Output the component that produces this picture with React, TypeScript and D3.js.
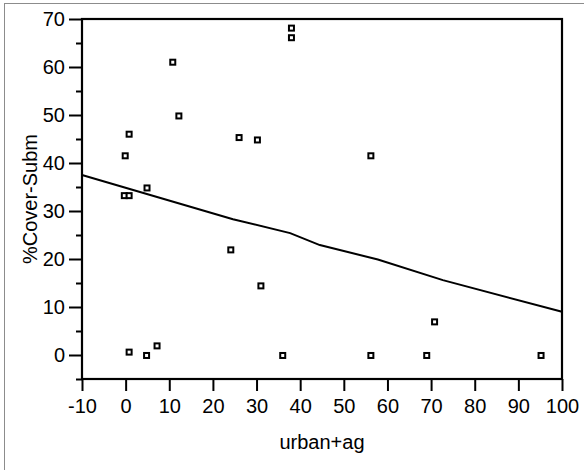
import React, { useEffect, useRef } from 'react';
import * as d3 from 'd3';

// scatter values
const urbanAg = [-0.1, 0.8, -0.3, 0.8, 4.9, 10.8, 12.2, 26, 30.2, 38, 38, 56.2, 24.1, 31, 0.8, 4.8, 7.2, 36, 56.2, 69, 70.8, 95.2];
const coverSubm = [41.5, 46.0, 33.2, 33.2, 34.8, 61.0, 49.8, 45.3, 44.8, 68.1, 66.1, 41.5, 21.9, 14.4, 0.6, -0.1, 1.9, -0.1, -0.1, -0.1, 6.9, -0.1];

// fitted line as drawn
const fitX = [-10, 24.6, 37.7, 44.5, 57.8, 72.7, 100];
const fitY = [37.5, 28.3, 25.4, 22.9, 19.9, 15.6, 9.0];

const xTicks = [-10, 0, 10, 20, 30, 40, 50, 60, 70, 80, 90, 100];
const yTicks = [0, 10, 20, 30, 40, 50, 60, 70];
const yMinorTicks = [-5, 5, 15, 25, 35, 45, 55, 65];

function App() {
  const svgRef = useRef(null);

  useEffect(() => {
    const W = 584, H = 470;
    const margin = { top: 19, right: 22, bottom: 91, left: 82 };
    const width = W - margin.left - margin.right;
    const height = H - margin.top - margin.bottom;
    const font = 'Liberation Sans, Arial, sans-serif';

    const root = d3.select(svgRef.current);
    root.selectAll('*').remove();
    root.attr('width', W).attr('height', H);

    root.append('rect')
      .attr('x', 4.5).attr('y', 3.5)
      .attr('width', 620).attr('height', 520)
      .attr('fill', 'white')
      .attr('stroke', '#8c8c8c');

    const svg = root.append('g')
      .attr('transform', `translate(${margin.left},${margin.top})`);

    const x = d3.scaleLinear().domain([-10, 100]).range([0, width]);
    const y = d3.scaleLinear().domain([-5, 70]).range([height, 0]);

    const yAxis = svg.append('g')
      .call(d3.axisLeft(y).tickValues(yTicks).tickSize(13).tickPadding(4).tickFormat(d => String(d)));
    yAxis.select('.domain').remove();
    yAxis.selectAll('line').attr('stroke', 'black').attr('stroke-width', 2);
    yAxis.selectAll('text').attr('font-size', 20).attr('font-family', font).attr('fill', 'black');

    const yMinor = svg.append('g')
      .call(d3.axisLeft(y).tickValues(yMinorTicks).tickSize(6).tickFormat(() => ''));
    yMinor.select('.domain').remove();
    yMinor.selectAll('line').attr('stroke', 'black').attr('stroke-width', 2);

    const xAxis = svg.append('g')
      .attr('transform', `translate(0,${height})`)
      .call(d3.axisBottom(x).tickValues(xTicks).tickSize(12).tickPadding(8).tickFormat(d => String(d)));
    xAxis.select('.domain').remove();
    xAxis.selectAll('line').attr('stroke', 'black').attr('stroke-width', 2);
    xAxis.selectAll('text').attr('font-size', 20).attr('font-family', font).attr('fill', 'black');

    svg.append('rect')
      .attr('width', width).attr('height', height)
      .attr('fill', 'none')
      .attr('stroke', 'black')
      .attr('stroke-width', 2.2);

    const line = d3.line()
      .x(d => x(d[0]))
      .y(d => y(d[1]));

    svg.append('path')
      .datum(fitX.map((v, i) => [v, fitY[i]]))
      .attr('d', line)
      .attr('fill', 'none')
      .attr('stroke', 'black')
      .attr('stroke-width', 2);

    const pts = urbanAg.map((v, i) => [v, coverSubm[i]]);
    svg.selectAll('.pt')
      .data(pts)
      .enter().append('rect')
      .attr('class', 'pt')
      .attr('x', d => x(d[0]) - 2.5)
      .attr('y', d => y(d[1]) - 2.5)
      .attr('width', 5)
      .attr('height', 5)
      .attr('fill', 'white')
      .attr('stroke', 'black')
      .attr('stroke-width', 2);

    root.append('text')
      .attr('x', margin.left + width / 2)
      .attr('y', 449)
      .attr('text-anchor', 'middle')
      .attr('font-size', 20)
      .attr('font-family', font)
      .text('urban+ag');

    root.append('text')
      .attr('transform', `translate(37,${margin.top + height / 2}) rotate(-90)`)
      .attr('text-anchor', 'middle')
      .attr('font-size', 20)
      .attr('font-family', font)
      .text('%Cover-Subm');
  }, []);

  return (
    <svg ref={svgRef} style={{ position: 'absolute', left: 0, top: 0, display: 'block' }}></svg>
  );
}

export default App;
